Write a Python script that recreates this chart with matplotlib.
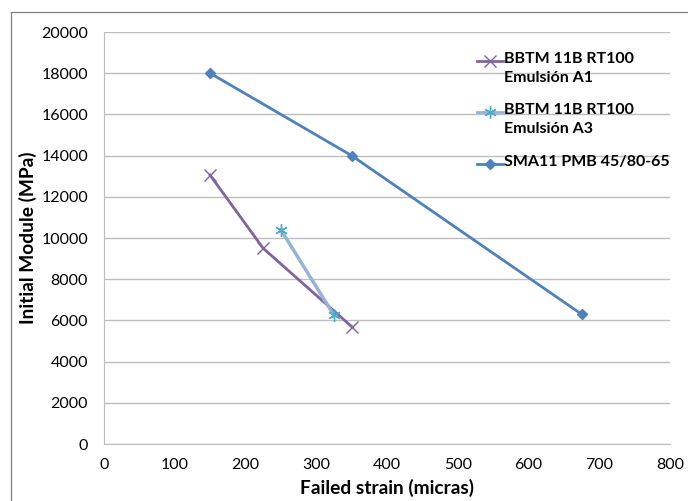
import matplotlib

matplotlib.use("Agg")
import matplotlib.pyplot as plt
from matplotlib.lines import Line2D
from matplotlib.patches import Rectangle

plt.rcParams["font.family"] = ["Lato", "DejaVu Sans"]

a1_strain = [150, 225, 350]
a1_module = [13050, 9500, 5700]
a3_strain = [250, 325]
a3_module = [10400, 6250]
sma_strain = [150, 350, 675]
sma_module = [18000, 14000, 6300]

labels = ["BBTM 11B RT100\nEmulsión A1", "BBTM 11B RT100\nEmulsión A3", "SMA11 PMB 45/80-65"]

fig = plt.figure(figsize=(6.88, 5.01), dpi=100)
ax = fig.add_axes([104 / 688, 1 - 444 / 501, (670 - 104) / 688, (444 - 32) / 501])

# outer chart border
fig.patches.append(Rectangle((11 / 688, -0.1), 1.0, 1 - 12 / 501 + 0.1, transform=fig.transFigure,
                             fill=False, edgecolor="#808080", linewidth=0.9, zorder=0))

styles = [
    dict(color="#8064A2", marker="x", markersize=8, markeredgewidth=1.0, markeredgecolor="#8064A2"),
    dict(color="#95B3D7", marker=(6, 2, 0), markersize=9, markeredgewidth=1.0, markeredgecolor="#4BACC6"),
    dict(color="#4F81BD", marker="D", markersize=5, markeredgecolor="#4F81BD"),
]

ax.plot(a1_strain, a1_module, linewidth=2, **styles[0])
ax.plot(a3_strain, a3_module, linewidth=2.5, **styles[1])
ax.plot(sma_strain, sma_module, linewidth=2, **styles[2])

ax.set_xlim(0, 800)
ax.set_ylim(0, 20000)
ax.set_xticks(range(0, 801, 100))
ax.set_yticks(range(0, 20001, 2000))
ax.tick_params(axis="y", length=0, labelsize=11.5, pad=11.5)
ax.tick_params(axis="x", length=0, labelsize=11.5, pad=10)
ax.grid(True, axis="y", color="#BEBEBE", linewidth=1)
ax.set_axisbelow(True)
for side in ["top", "right"]:
    ax.spines[side].set_visible(False)
ax.spines["left"].set_color("#BEBEBE")
ax.spines["bottom"].set_color("#BEBEBE")

ax.set_xlabel("Failed strain (micras)", fontsize=13.8, fontweight="bold", labelpad=5)
ax.set_ylabel("Initial Module (MPa)", fontsize=13.8, fontweight="bold")
ax.yaxis.set_label_coords((37 - 104) / 566, 0.5)

# legend drawn by hand so the handle sits on the first text line
legend_y = [61, 112, 164]
for label, style, y in zip(labels, styles, legend_y):
    yf = 1 - y / 501
    fig.add_artist(Line2D([477 / 688, 503 / 688], [yf, yf], transform=fig.transFigure,
                          linewidth=2, color=style["color"]))
    fig.add_artist(Line2D([490 / 688], [yf], transform=fig.transFigure, linestyle="none",
                          **style))
    fig.text(504 / 688, yf + 9 / 501, label, fontsize=11.5, fontweight="bold",
             va="top", ha="left", linespacing=1.45)

fig.savefig("out.png", dpi=100)
